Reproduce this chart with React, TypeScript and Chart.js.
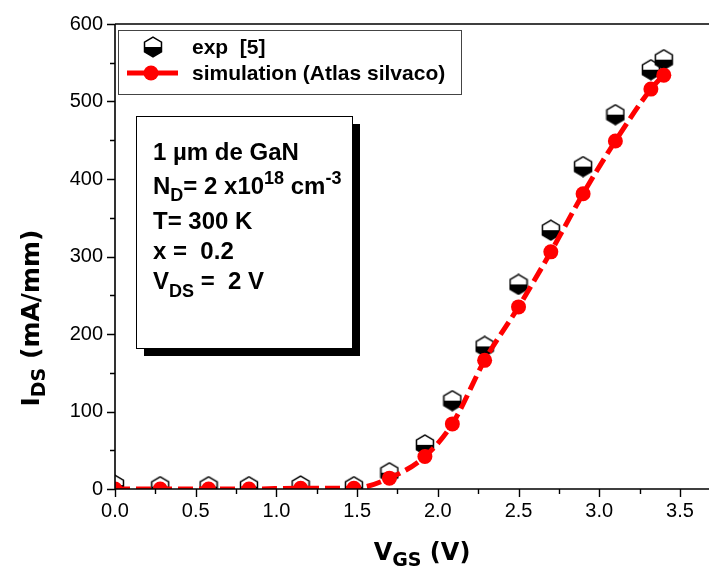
import React, { useEffect, useRef } from 'react';
import { Chart, registerables } from 'chart.js';

Chart.register(...registerables);

// ---- data ----
const vgsExp = [0.0, 0.28, 0.58, 0.83, 1.15, 1.48, 1.70, 1.92, 2.09, 2.29, 2.50, 2.70, 2.90, 3.10, 3.32, 3.40];
const idsExp = [5, 3, 3, 3, 4, 3, 21, 57, 114, 184, 264, 334, 416, 483, 541, 554];
const vgsSim = [0.0, 0.28, 0.58, 0.83, 1.15, 1.48, 1.70, 1.92, 2.09, 2.29, 2.50, 2.70, 2.90, 3.10, 3.32, 3.40];
const idsSim = [0, 0, 0, 0, 1, 1, 14, 42, 84, 166, 235, 306, 381, 449, 516, 534];

const xTickValues = [0, 0.25, 0.5, 0.75, 1.0, 1.25, 1.5, 1.75, 2.0, 2.25, 2.5, 2.75, 3.0, 3.25, 3.5];
const yTickValues = [0, 50, 100, 150, 200, 250, 300, 350, 400, 450, 500, 550, 600];

const legendLabels = ['exp  [5]', 'simulation (Atlas silvaco)'];

const SANS = '"Liberation Sans", Arial, sans-serif';
const TITLE = '"DejaVu Sans", Verdana, sans-serif';

function isMajor(v: number, step: number) {
  return Math.abs(v / step - Math.round(v / step)) < 1e-9;
}

function makeHex(): HTMLCanvasElement {
  const c = document.createElement('canvas');
  c.width = 20;
  c.height = 22;
  const g = c.getContext('2d')!;
  const cx = 10, cy = 11, r = 9.8, k = r * Math.cos(Math.PI / 6);
  const path = () => {
    g.beginPath();
    g.moveTo(cx, cy - r);
    g.lineTo(cx + k, cy - r / 2);
    g.lineTo(cx + k, cy + r / 2);
    g.lineTo(cx, cy + r);
    g.lineTo(cx - k, cy + r / 2);
    g.lineTo(cx - k, cy - r / 2);
    g.closePath();
  };
  path();
  g.fillStyle = '#fff';
  g.fill();
  g.save();
  path();
  g.clip();
  g.fillStyle = '#000';
  g.fillRect(0, cy, 20, 22);
  g.restore();
  path();
  g.lineWidth = 1.5;
  g.strokeStyle = '#000';
  g.stroke();
  return c;
}

type Part = [string, 'n' | 'sub' | 'sup'];

function richWidth(ctx: CanvasRenderingContext2D, parts: Part[], size: number, family: string, small: number) {
  let w = 0;
  for (const [t, k] of parts) {
    ctx.font = `bold ${k === 'n' ? size : small}px ${family}`;
    w += ctx.measureText(t).width;
  }
  return w;
}

function drawRich(ctx: CanvasRenderingContext2D, x: number, y: number, parts: Part[], size: number, family: string, small: number, subDy: number, supDy: number) {
  let cx = x;
  ctx.textBaseline = 'alphabetic';
  ctx.textAlign = 'left';
  for (const [t, k] of parts) {
    ctx.font = `bold ${k === 'n' ? size : small}px ${family}`;
    const dy = k === 'sub' ? subDy : k === 'sup' ? -supDy : 0;
    ctx.fillText(t, cx, y + dy);
    cx += ctx.measureText(t).width;
  }
}

const decorPlugin = {
  id: 'decor',
  afterDraw(chart: any) {
    const { ctx, chartArea: a, scales } = chart;
    const xs = scales.x, ys = scales.y;
    ctx.save();
    ctx.fillStyle = '#000';
    ctx.strokeStyle = '#000';

    // axes + top frame
    ctx.lineWidth = 1.6;
    ctx.beginPath();
    ctx.moveTo(a.left, a.top);
    ctx.lineTo(a.left, a.bottom);
    ctx.lineTo(a.right, a.bottom);
    ctx.moveTo(a.left, a.top);
    ctx.lineTo(a.right, a.top);
    ctx.stroke();

    // ticks
    ctx.lineWidth = 1.4;
    ctx.beginPath();
    xs.ticks.forEach((t: any) => {
      const px = Math.round(xs.getPixelForValue(t.value)) + 0.5;
      const len = isMajor(t.value, 0.5) ? 8 : 5;
      ctx.moveTo(px, a.bottom);
      ctx.lineTo(px, a.bottom + len);
    });
    ys.ticks.forEach((t: any) => {
      const py = Math.round(ys.getPixelForValue(t.value)) + 0.5;
      const len = isMajor(t.value, 100) ? 8 : 5;
      ctx.moveTo(a.left, py);
      ctx.lineTo(a.left - len, py);
    });
    ctx.stroke();

    // x title
    const xParts: Part[] = [['V', 'n'], ['GS', 'sub'], [' (V)', 'n']];
    const xw = richWidth(ctx, xParts, 24, TITLE, 19);
    const xc = (a.left + a.right) / 2 + 10;
    drawRich(ctx, xc - xw / 2, 560, xParts, 24, TITLE, 19, 6, 0);

    // y title
    const yParts: Part[] = [['I', 'n'], ['DS', 'sub'], [' (mA/mm)', 'n']];
    const yw = richWidth(ctx, yParts, 25, TITLE, 19);
    ctx.save();
    ctx.translate(39, 318);
    ctx.rotate(-Math.PI / 2);
    drawRich(ctx, -yw / 2, 0, yParts, 25, TITLE, 19, 6, 0);
    ctx.restore();

    // legend box
    ctx.fillStyle = '#fff';
    ctx.fillRect(118.5, 30.5, 343, 64);
    ctx.strokeStyle = '#444';
    ctx.lineWidth = 1;
    ctx.strokeRect(118.5, 30.5, 343, 64);
    const hex = chart.$hex as HTMLCanvasElement;
    ctx.drawImage(hex, 153 - hex.width / 2, 47 - hex.height / 2);
    ctx.strokeStyle = '#ff0000';
    ctx.lineWidth = 5;
    ctx.beginPath();
    ctx.moveTo(127, 73);
    ctx.lineTo(178, 73);
    ctx.stroke();
    ctx.fillStyle = '#ff0000';
    ctx.beginPath();
    ctx.arc(151, 73, 7.5, 0, Math.PI * 2);
    ctx.fill();
    ctx.fillStyle = '#000';
    ctx.font = `bold 21px ${SANS}`;
    ctx.textBaseline = 'middle';
    ctx.textAlign = 'left';
    ctx.fillText(legendLabels[0], 192, 48);
    ctx.fillText(legendLabels[1], 192, 74);

    // text box with shadow
    ctx.fillStyle = '#000';
    ctx.fillRect(144, 124, 216, 232);
    ctx.fillStyle = '#fff';
    ctx.fillRect(136.5, 116.5, 216, 232);
    ctx.strokeStyle = '#000';
    ctx.lineWidth = 1;
    ctx.strokeRect(136.5, 116.5, 216, 232);
    ctx.fillStyle = '#000';
    const fs = 24, sm = 18;
    drawRich(ctx, 153, 160, [['1 µm de GaN', 'n']], fs, SANS, sm, 7, 10);
    drawRich(ctx, 153, 194, [['N', 'n'], ['D', 'sub'], ['= 2 x10', 'n'], ['18', 'sup'], [' cm', 'n'], ['-3', 'sup']], fs, SANS, sm, 7, 10);
    drawRich(ctx, 153, 229, [['T= 300 K', 'n']], fs, SANS, sm, 7, 10);
    drawRich(ctx, 153, 259, [['x =  0.2', 'n']], fs, SANS, sm, 7, 10);
    drawRich(ctx, 153, 289, [['V', 'n'], ['DS', 'sub'], [' =  2 V', 'n']], fs, SANS, sm, 8, 10);

    ctx.restore();
  },
};

export default function App() {
  const ref = useRef<HTMLCanvasElement | null>(null);

  useEffect(() => {
    document.body.style.margin = '0';
    const canvas = ref.current!;
    const hex = makeHex();
    const chart: any = new Chart(canvas, {
      type: 'line',
      data: {
        datasets: [
          {
            label: legendLabels[1],
            data: vgsSim.map((x, i) => ({ x, y: idsSim[i] })),
            borderColor: '#ff0000',
            backgroundColor: '#ff0000',
            borderWidth: 5,
            borderDash: [15, 6],
            cubicInterpolationMode: 'monotone',
            pointRadius: 7.5,
            pointBorderWidth: 0,
            pointBackgroundColor: '#ff0000',
            order: 0,
          },
          {
            label: legendLabels[0],
            data: vgsExp.map((x, i) => ({ x, y: idsExp[i] })),
            showLine: false,
            pointStyle: hex as any,
            pointRadius: 9,
            order: 1,
          },
        ],
      },
      options: {
        animation: false,
        responsive: false,
        devicePixelRatio: 1,
        layout: { padding: { top: 19, left: 0, right: 0, bottom: 0 } },
        plugins: {
          legend: { display: false },
          tooltip: { enabled: false },
        },
        scales: {
          x: {
            type: 'linear',
            min: 0,
            max: 3.68,
            grid: { display: false, drawTicks: false },
            border: { display: false },
            afterBuildTicks: (s: any) => {
              s.ticks = xTickValues.map((v) => ({ value: v }));
            },
            afterFit: (s: any) => {
              s.height = 89;
            },
            ticks: {
              autoSkip: false,
              maxRotation: 0,
              padding: 10,
              color: '#000',
              font: { family: SANS, size: 20 },
              callback: (v: any) => (isMajor(Number(v), 0.5) ? Number(v).toFixed(1) : ''),
            },
          },
          y: {
            type: 'linear',
            min: 0,
            max: 600,
            grid: { display: false, drawTicks: false },
            border: { display: false },
            afterBuildTicks: (s: any) => {
              s.ticks = yTickValues.map((v) => ({ value: v }));
            },
            afterFit: (s: any) => {
              s.width = 115;
            },
            ticks: {
              autoSkip: false,
              padding: 12,
              color: '#000',
              font: { family: SANS, size: 20 },
              callback: (v: any) => (isMajor(Number(v), 100) ? String(v) : ''),
            },
          },
        },
      },
      plugins: [
        {
          id: 'hexref',
          beforeInit(c: any) {
            c.$hex = hex;
          },
        },
        decorPlugin,
      ],
    });
    return () => chart.destroy();
  }, []);

  return (
    <div style={{ position: 'absolute', left: 0, top: 0, width: 719, height: 578, background: '#fff' }}>
      <canvas ref={ref} width={719} height={578} style={{ width: 719, height: 578, display: 'block' }} />
    </div>
  );
}
